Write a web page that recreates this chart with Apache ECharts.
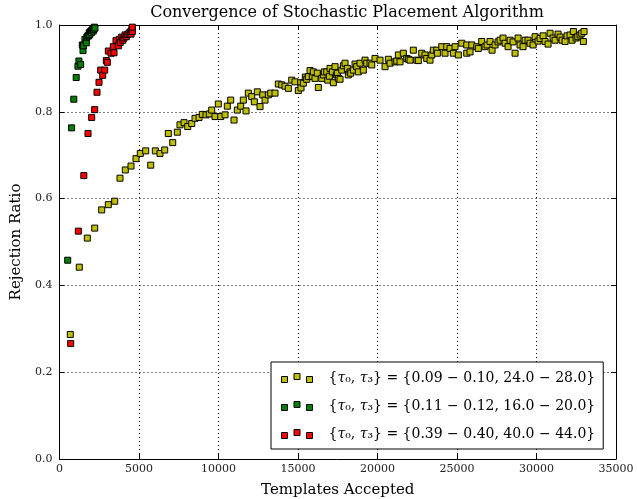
<!DOCTYPE html>
<html>
<head>
<meta charset="utf-8">
<script src="https://cdn.jsdelivr.net/npm/echarts@6/dist/echarts.min.js"></script>
<style>html,body{margin:0;padding:0;background:#fff}#c{width:637px;height:499px}</style>
</head>
<body>
<div id="c"></div>
<script>
// ---- data ----
const xTicks = [0, 5000, 10000, 15000, 20000, 25000, 30000, 35000];
const yTicks = ['0.0', '0.2', '0.4', '0.6', '0.8', '1.0'];
const seriesNames = ['yellow', 'green', 'red'];
const legendRanges = [
  ' = {0.09 − 0.10, 24.0 − 28.0}',
  ' = {0.11 − 0.12, 16.0 − 20.0}',
  ' = {0.39 − 0.40, 40.0 − 44.0}'
];

const yellowData = [
  [679,0.287],[1245,0.442],[1749,0.509],[2214,0.532],[2654,0.574],[3070,0.586],[3472,0.594],
  [3805,0.647],[4139,0.666],[4497,0.675],[4812,0.692],[5082,0.704],[5422,0.710],[5737,0.677],
  [6026,0.710],[6321,0.704],[6617,0.712],[6844,0.750],[7120,0.729],[7410,0.753],[7579,0.770],
  [7831,0.775],[8064,0.766],[8315,0.773],[8523,0.785],[8775,0.787],[8982,0.794],[9215,0.793],
  [9422,0.795],[9573,0.804],[9781,0.789],[9989,0.818],[10140,0.789],[10410,0.793],[10555,0.813],
  [10768,0.827],[10976,0.781],[11184,0.804],[11397,0.813],[11561,0.827],[11731,0.802],[11876,0.843],
  [12090,0.835],[12253,0.823],[12442,0.846],[12612,0.812],[12782,0.839],[12926,0.827],[13134,0.839],
  [13285,0.843],[13555,0.843],[13763,0.864],[13977,0.862],[14184,0.859],[14392,0.854],[14606,0.873],
  [14813,0.869],[15021,0.849],[15171,0.867],[15190,0.855],[15335,0.866],[15461,0.880],[15549,0.875],
  [15650,0.881],[15757,0.895],[15901,0.882],[15964,0.892],[16071,0.877],[16215,0.889],[16279,0.856],
  [16493,0.877],[16594,0.885],[16656,0.892],[16807,0.892],[16870,0.873],[16971,0.882],[17015,0.900],
  [17160,0.892],[17222,0.867],[17329,0.904],[17411,0.885],[17474,0.889],[17537,0.877],[17644,0.875],
  [17751,0.896],[17852,0.906],[17958,0.912],[18103,0.900],[18166,0.885],[18273,0.892],[18317,0.889],
  [18480,0.896],[18587,0.910],[18694,0.904],[18795,0.892],[18901,0.912],[19109,0.896],[19216,0.919],
  [19323,0.912],[19530,0.912],[19638,0.908],[19845,0.923],[20160,0.919],[20474,0.904],[20682,0.921],
  [20789,0.912],[21103,0.915],[21210,0.917],[21311,0.931],[21417,0.915],[21625,0.935],[21839,0.923],
  [21940,0.921],[22047,0.919],[22254,0.942],[22468,0.919],[22569,0.918],[22783,0.935],[22990,0.931],
  [23097,0.923],[23304,0.919],[23412,0.931],[23512,0.942],[23726,0.942],[23764,0.935],[24041,0.950],
  [24248,0.935],[24355,0.950],[24563,0.946],[24770,0.935],[24877,0.950],[25085,0.931],[25299,0.958],
  [25612,0.935],[25612,0.954],[25820,0.938],[25927,0.954],[26242,0.950],[26342,0.946],[26556,0.962],
  [26764,0.950],[26890,0.954],[27078,0.962],[27205,0.942],[27393,0.954],[27582,0.961],[27708,0.965],
  [27896,0.970],[28023,0.958],[28211,0.950],[28337,0.965],[28526,0.961],[28652,0.935],[28840,0.970],
  [28966,0.954],[29155,0.950],[29281,0.965],[29469,0.965],[29595,0.958],[29784,0.954],[29910,0.973],
  [30098,0.963],[30224,0.969],[30413,0.975],[30539,0.962],[30727,0.956],[30853,0.981],[31042,0.970],
  [31168,0.965],[31356,0.979],[31482,0.972],[31608,0.965],[31797,0.962],[31922,0.975],[32111,0.977],
  [32237,0.965],[32319,0.985],[32489,0.970],[32595,0.973],[32740,0.977],[32847,0.981],[32948,0.962],
  [32991,0.985]
];

const greenData = [
  [516,0.458],[760,0.763],[900,0.829],[1050,0.879],[1160,0.905],[1220,0.917],[1330,0.909],
  [1434,0.954],[1478,0.941],[1500,0.952],[1600,0.967],[1686,0.959],[1720,0.972],[1780,0.975],
  [1837,0.975],[1870,0.982],[1900,0.978],[1950,0.985],[2000,0.982],[2030,0.988],[2080,0.990],
  [2120,0.986],[2170,0.990],[2190,0.995],[2230,0.993]
];

const redData = [
  [704,0.266],[1184,0.525],[1530,0.653],[1793,0.750],[2025,0.787],[2214,0.805],[2359,0.845],
  [2485,0.868],[2591,0.896],[2717,0.884],[2843,0.896],[2944,0.918],[3007,0.914],[3070,0.940],
  [3239,0.935],[3384,0.950],[3428,0.936],[3554,0.964],[3699,0.952],[3761,0.967],[3820,0.960],
  [3912,0.972],[3980,0.965],[4050,0.970],[4120,0.977],[4200,0.973],[4280,0.978],[4372,0.981],
  [4450,0.984],[4500,0.979],[4550,0.990],[4580,0.985],[4580,0.995]
];

const colors = ['#bfbf00', '#007f00', '#ff0000'];
const allData = [yellowData, greenData, redData];

const FONT = 'DejaVu Serif';
const chart = echarts.init(document.getElementById('c'), null, {renderer: 'canvas'});

const baseX = {
  type: 'value', min: 0, max: 35000, interval: 5000,
  axisLine: {show: true, onZero: false, lineStyle: {color: '#000', width: 1}},
  axisTick: {show: true, inside: true, length: 5, lineStyle: {color: '#000'}}
};
const baseY = {
  type: 'value', min: 0, max: 1, interval: 0.2,
  axisLine: {show: true, onZero: false, lineStyle: {color: '#000', width: 1}},
  axisTick: {show: true, inside: true, length: 5, lineStyle: {color: '#000'}}
};

const option = {
  animation: false,
  backgroundColor: '#fff',
  title: {
    text: 'Convergence of Stochastic Placement Algorithm',
    left: 342, top: 0, textAlign: 'center',
    textStyle: {fontFamily: FONT, fontSize: 16, fontWeight: 'normal', color: '#000'}
  },
  grid: {left: 59.5, right: 21, top: 25, bottom: 40, containLabel: false, outerBoundsMode: 'none'},
  xAxis: [
    Object.assign({}, baseX, {
      position: 'bottom',
      name: 'Templates Accepted', nameLocation: 'middle', nameGap: 24,
      nameTextStyle: {fontFamily: FONT, fontSize: 15, color: '#000'},
      axisLabel: {fontFamily: FONT, fontSize: 11, color: '#222', margin: 5,
        formatter: v => xTicks.includes(v) ? String(v) : ''},
      splitLine: {show: true, lineStyle: {color: '#000', type: [1, 3], width: 1}}
    }),
    Object.assign({}, baseX, {
      position: 'top', axisLabel: {show: false}, splitLine: {show: false}
    })
  ],
  yAxis: [
    Object.assign({}, baseY, {
      position: 'left',
      name: 'Rejection Ratio', nameLocation: 'middle', nameGap: 32, nameRotate: 90,
      nameTextStyle: {fontFamily: FONT, fontSize: 15, color: '#000'},
      axisLabel: {fontFamily: FONT, fontSize: 11, color: '#222', margin: 7,
        formatter: (v, i) => yTicks[i] !== undefined ? yTicks[i] : v.toFixed(1)},
      splitLine: {show: true, lineStyle: {color: '#000', type: [1, 3], width: 1}}
    }),
    Object.assign({}, baseY, {
      position: 'right', axisLabel: {show: false}, splitLine: {show: false}
    })
  ],
  legend: {
    orient: 'vertical',
    left: 271, top: 362,
    padding: [9, 8, 8, 10],
    backgroundColor: '#fff',
    borderColor: '#000', borderWidth: 1, borderRadius: 0,
    itemWidth: 31, itemHeight: 9,
    itemGap: 14,
    icon: 'path://M0,3h6v6h-6z M12.5,0h6v6h-6z M25,3h6v6h-6z',
    itemStyle: {borderColor: '#000', borderWidth: 1},
    data: seriesNames,
    formatter: name => {
      const i = seriesNames.indexOf(name);
      return '{a|{}{i|τ}{a|₀, }{i|τ}{a|₃}}' + '{a|' + legendRanges[i] + '}';
    },
    textStyle: {
      fontFamily: FONT, fontSize: 14, color: '#000', padding: [0, 0, 0, 11],
      rich: {
        a: {fontFamily: FONT, fontSize: 14, color: '#000', lineHeight: 18},
        i: {fontFamily: FONT, fontSize: 14, color: '#000', fontStyle: 'italic', lineHeight: 18}
      }
    }
  },
  series: seriesNames.map((n, k) => ({
    name: n,
    type: 'scatter',
    xAxisIndex: 0, yAxisIndex: 0,
    symbol: 'rect',
    symbolSize: 6,
    data: allData[k],
    itemStyle: {color: colors[k], borderColor: '#000', borderWidth: 1, opacity: 1},
    emphasis: {disabled: true},
    z: 2 + k
  }))
};
chart.setOption(option);
</script>
</body>
</html>
